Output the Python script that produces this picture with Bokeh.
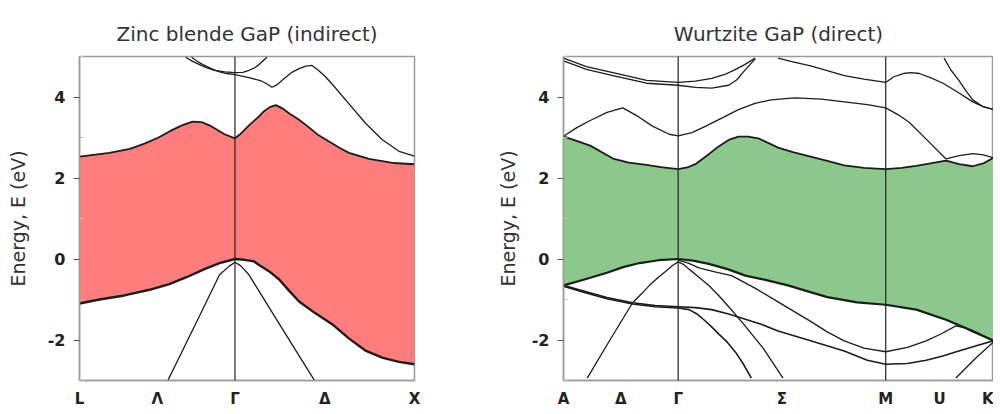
from bokeh.plotting import figure
from bokeh.layouts import row
from bokeh.models import FixedTicker, Range1d, Span
from bokeh.embed import file_html
from bokeh.resources import INLINE

# ---------------- Zinc blende GaP (indirect) ----------------
zb_title = "Zinc blende GaP (indirect)"
zb_labels = ["L", "Λ", "Γ", "Δ", "X"]
zb_kpts = [0.0, 0.433, 0.866, 1.366, 1.866]
zb_vlines = [0.866]

zb_vb1_k = [0.0, 0.111, 0.25, 0.39, 0.5, 0.596, 0.696, 0.78, 0.866, 0.92, 0.972, 1.0, 1.055, 1.111, 1.167, 1.223, 1.31, 1.407, 1.5, 1.596, 1.69, 1.78, 1.866]
zb_vb1_e = [-1.1, -1.0, -0.9, -0.76, -0.62, -0.45, -0.25, -0.1, 0.0, -0.02, -0.06, -0.15, -0.3, -0.5, -0.78, -1.05, -1.33, -1.61, -1.96, -2.27, -2.44, -2.54, -2.6]

zb_vb3l_k = [0.866, 0.836, 0.78, 0.669, 0.585, 0.49]
zb_vb3l_e = [-0.08, -0.17, -0.39, -1.4, -2.16, -3.02]
zb_vb3r_k = [0.866, 0.899, 0.944, 1.055, 1.195, 1.312]
zb_vb3r_e = [-0.08, -0.17, -0.39, -1.19, -2.19, -3.02]

zb_cb1_k = [0.0, 0.167, 0.28, 0.362, 0.44, 0.501, 0.57, 0.63, 0.68, 0.724, 0.808, 0.866, 0.9, 0.944, 1.0, 1.028, 1.06, 1.094, 1.13, 1.167, 1.223, 1.278, 1.33, 1.39, 1.45, 1.501, 1.613, 1.752, 1.866]
zb_cb1_e = [2.53, 2.62, 2.72, 2.85, 3.0, 3.15, 3.3, 3.39, 3.38, 3.3, 3.08, 2.98, 3.1, 3.3, 3.52, 3.65, 3.75, 3.8, 3.72, 3.6, 3.44, 3.25, 3.06, 2.9, 2.74, 2.62, 2.47, 2.37, 2.34]

zb_cb2_k = [0.866, 0.944, 1.011, 1.045, 1.072, 1.1, 1.139, 1.18, 1.223, 1.26, 1.295, 1.33, 1.37, 1.407, 1.501, 1.596, 1.685, 1.78, 1.866]
zb_cb2_e = [4.55, 4.48, 4.4, 4.32, 4.24, 4.3, 4.45, 4.6, 4.7, 4.76, 4.78, 4.66, 4.5, 4.32, 3.83, 3.34, 2.95, 2.66, 2.54]

zb_cb3_k = [0.591, 0.63, 0.669, 0.71, 0.752, 0.81, 0.866, 0.91, 0.944, 0.975, 1.0, 1.044]
zb_cb3_e = [4.98, 4.88, 4.8, 4.72, 4.66, 4.62, 4.6, 4.61, 4.66, 4.72, 4.8, 4.98]
zb_cb4_k = [0.624, 0.66, 0.696, 0.74, 0.78, 0.82, 0.866]
zb_cb4_e = [4.98, 4.87, 4.78, 4.69, 4.62, 4.58, 4.55]

# ---------------- Wurtzite GaP (direct) ----------------
wz_title = "Wurtzite GaP (direct)"
wz_labels = ["A", "Δ", "Γ", "Σ", "M", "U", "K"]
wz_kpts = [0.0, 0.5, 1.0, 1.905, 2.81, 3.28, 3.75]
wz_vlines = [1.0, 2.81]

wz_cb1_k = [0.0, 0.233, 0.431, 0.57, 0.707, 0.85, 1.0, 1.08, 1.155, 1.25, 1.353, 1.44, 1.526, 1.61, 1.698, 1.871, 2.0, 2.155, 2.3, 2.448, 2.62, 2.81, 2.95, 3.077, 3.2, 3.336, 3.45, 3.569, 3.66, 3.75]
wz_cb1_e = [3.03, 2.8, 2.48, 2.38, 2.33, 2.27, 2.22, 2.26, 2.35, 2.55, 2.78, 2.94, 3.02, 3.02, 2.98, 2.75, 2.64, 2.53, 2.42, 2.31, 2.25, 2.22, 2.25, 2.3, 2.36, 2.43, 2.34, 2.29, 2.36, 2.5]

wz_cb2_k = [0.0, 0.12, 0.233, 0.38, 0.517, 0.65, 0.776, 0.922, 1.0, 1.12, 1.241, 1.38, 1.526, 1.67, 1.81, 2.017, 2.25, 2.448, 2.65, 2.81, 2.92, 3.017, 3.163, 3.336, 3.45, 3.569, 3.66, 3.75]
wz_cb2_e = [3.03, 3.25, 3.42, 3.62, 3.73, 3.52, 3.28, 3.08, 3.04, 3.12, 3.28, 3.48, 3.69, 3.84, 3.93, 3.98, 3.95, 3.88, 3.81, 3.73, 3.56, 3.37, 2.96, 2.47, 2.55, 2.6, 2.57, 2.5]

wz_cb3_k = [0.0, 0.2, 0.431, 0.724, 1.0, 1.15, 1.293, 1.4, 1.48, 1.58, 1.672]
wz_cb3_e = [4.96, 4.75, 4.6, 4.41, 4.36, 4.39, 4.46, 4.55, 4.65, 4.8, 4.96]
wz_cb4_k = [0.0, 0.2, 0.431, 0.724, 1.0, 1.15, 1.293, 1.44, 1.51, 1.569, 1.672]
wz_cb4_e = [4.89, 4.68, 4.53, 4.34, 4.29, 4.24, 4.22, 4.29, 4.42, 4.62, 4.94]
wz_cb5_k = [1.871, 2.0, 2.155, 2.3, 2.448, 2.62, 2.81, 2.88, 2.965, 3.03, 3.103, 3.2, 3.31, 3.45, 3.569, 3.66, 3.75]
wz_cb5_e = [4.96, 4.87, 4.77, 4.65, 4.53, 4.44, 4.36, 4.5, 4.58, 4.6, 4.58, 4.48, 4.34, 4.1, 3.88, 3.76, 3.69]
wz_cb6_k = [3.319, 3.38, 3.448, 3.51, 3.569, 3.66, 3.75]
wz_cb6_e = [4.96, 4.66, 4.41, 4.15, 3.93, 3.76, 3.69]

wz_vb1_k = [0.0, 0.19, 0.379, 0.52, 0.664, 0.83, 1.0, 1.13, 1.267, 1.43, 1.586, 1.77, 1.957, 2.13, 2.302, 2.56, 2.81, 3.077, 3.336, 3.569, 3.75]
wz_vb1_e = [-0.65, -0.5, -0.34, -0.2, -0.1, -0.03, 0.0, -0.04, -0.12, -0.25, -0.41, -0.52, -0.65, -0.8, -0.94, -1.07, -1.13, -1.25, -1.5, -1.78, -2.02]

wz_vb2_k = [0.0, 0.19, 0.379, 0.603, 0.8, 1.0, 1.15, 1.293, 1.44, 1.586, 1.73, 1.871, 2.155, 2.448, 2.65, 2.81, 3.0, 3.163, 3.3, 3.448, 3.6, 3.75]
wz_vb2_e = [-0.65, -0.8, -0.95, -1.08, -1.15, -1.18, -1.2, -1.25, -1.36, -1.49, -1.62, -1.78, -2.02, -2.27, -2.5, -2.6, -2.58, -2.5, -2.4, -2.27, -2.14, -2.02]

wz_vb3_k = [0.0, 0.19, 0.379, 0.603, 0.8, 1.0, 1.095, 1.16, 1.224, 1.29, 1.353, 1.43, 1.5, 1.57, 1.638]
wz_vb3_e = [-0.67, -0.83, -0.98, -1.11, -1.18, -1.21, -1.25, -1.35, -1.5, -1.67, -1.85, -2.06, -2.3, -2.6, -2.94]

wz_vb4_k = [1.0, 1.09, 1.181, 1.32, 1.466, 1.67, 1.871, 2.155, 2.3, 2.448, 2.62, 2.81, 3.0, 3.163, 3.3, 3.422, 3.5, 3.569, 3.75]
wz_vb4_e = [-0.03, -0.1, -0.22, -0.32, -0.41, -0.72, -1.06, -1.54, -1.8, -2.02, -2.2, -2.29, -2.18, -2.02, -1.84, -1.65, -1.7, -1.8, -2.02]

wz_vb5_k = [1.0, 1.05, 1.095, 1.181, 1.27, 1.353, 1.46, 1.569, 1.741, 1.914]
wz_vb5_e = [-0.07, -0.14, -0.25, -0.45, -0.66, -0.9, -1.24, -1.6, -2.2, -2.94]
wz_vb6_k = [1.0, 0.95, 0.897, 0.82, 0.75, 0.68, 0.603, 0.405, 0.207]
wz_vb6_e = [-0.07, -0.16, -0.29, -0.47, -0.65, -0.86, -1.08, -2.0, -2.94]
wz_vb7_k = [3.422, 3.594, 3.75]
wz_vb7_e = [-2.94, -2.45, -2.05]

y_ticks = [-2, 0, 2, 4]
y_minor = [-3, -1, 1, 3, 5]
e_min, e_max = -3, 5

FONT = "DejaVu Sans"
LINE = "#1c1c1c"
FRAME = "#9a9a9a"


def make_fig(title, kpts, labels, kmax, frame_w, border_left, border_right,
             tick_standoff, label_standoff):
    p = figure(output_backend="svg", toolbar_location=None,
               frame_width=frame_w, frame_height=324,
               min_border_left=border_left, min_border_right=border_right,
               min_border_top=56, min_border_bottom=22,
               x_range=Range1d(0, kmax), y_range=Range1d(e_min, e_max),
               title=title)
    p.title.align = "center"
    p.title.text_font = FONT
    p.title.text_font_size = "20px"
    p.title.text_font_style = "normal"
    p.title.text_color = "#333333"
    p.title.standoff = 22
    p.grid.visible = False
    p.outline_line_color = FRAME
    p.outline_line_width = 1.5
    p.background_fill_color = "white"
    p.border_fill_color = "white"

    xa = p.xaxis[0]
    xa.ticker = FixedTicker(ticks=kpts)
    xa.major_label_overrides = {k: lab for k, lab in zip(kpts, labels)}
    xa.major_tick_line_color = None
    xa.minor_tick_line_color = None
    xa.axis_line_color = FRAME
    xa.axis_line_width = 1.5
    xa.major_label_text_font = FONT
    xa.major_label_text_font_size = "15px"
    xa.major_label_text_font_style = "bold"
    xa.major_label_text_color = "#222222"
    xa.major_label_standoff = 3

    ya = p.yaxis[0]
    ya.ticker = FixedTicker(ticks=y_ticks, minor_ticks=y_minor)
    ya.major_label_overrides = {t: str(t) for t in y_ticks}
    ya.axis_line_color = FRAME
    ya.axis_line_width = 1.5
    ya.major_tick_line_color = "#555555"
    ya.major_tick_out = 6
    ya.major_tick_in = 0
    ya.minor_tick_line_color = "#bbbbbb"
    ya.minor_tick_in = 4
    ya.minor_tick_out = 0
    ya.major_label_text_font = FONT
    ya.major_label_text_font_size = "16px"
    ya.major_label_text_font_style = "bold"
    ya.major_label_text_color = "#222222"
    ya.major_label_standoff = tick_standoff
    ya.axis_label = "Energy, E (eV)"
    ya.axis_label_text_font = FONT
    ya.axis_label_text_font_size = "19px"
    ya.axis_label_text_font_style = "normal"
    ya.axis_label_text_color = "#333333"
    ya.axis_label_standoff = label_standoff
    return p


def band(p, k, e, w=1.3):
    p.line(k, e, line_color=LINE, line_width=w, line_join="round")


# ---- left panel ----
p1 = make_fig(zb_title, zb_kpts, zb_labels, zb_kpts[-1], 335, 79, 20, 8, 16)
p1.patch(zb_cb1_k + zb_vb1_k[::-1], zb_cb1_e + zb_vb1_e[::-1],
         fill_color="#ff7d7d", line_color=None)
for xv in zb_vlines:
    p1.add_layout(Span(location=xv, dimension="height", line_color="#222222", line_width=1.2))
band(p1, zb_vb3l_k, zb_vb3l_e)
band(p1, zb_vb3r_k, zb_vb3r_e)
band(p1, zb_cb2_k, zb_cb2_e)
band(p1, zb_cb3_k, zb_cb3_e)
band(p1, zb_cb4_k, zb_cb4_e)
band(p1, zb_cb1_k, zb_cb1_e, 1.8)
band(p1, zb_vb1_k, zb_vb1_e, 2.4)

# ---- right panel ----
p2 = make_fig(wz_title, wz_kpts, wz_labels, wz_kpts[-1], 430, 129, 0, 8, 10)
p2.patch(wz_cb1_k + wz_vb1_k[::-1], wz_cb1_e + wz_vb1_e[::-1],
         fill_color="#8cc78c", line_color=None)
for xv in wz_vlines:
    p2.add_layout(Span(location=xv, dimension="height", line_color="#222222", line_width=1.2))
band(p2, wz_cb2_k, wz_cb2_e)
band(p2, wz_cb3_k, wz_cb3_e)
band(p2, wz_cb4_k, wz_cb4_e)
band(p2, wz_cb5_k, wz_cb5_e)
band(p2, wz_cb6_k, wz_cb6_e)
band(p2, wz_vb2_k, wz_vb2_e, 1.6)
band(p2, wz_vb3_k, wz_vb3_e, 1.6)
band(p2, wz_vb4_k, wz_vb4_e)
band(p2, wz_vb5_k, wz_vb5_e)
band(p2, wz_vb6_k, wz_vb6_e)
band(p2, wz_vb7_k, wz_vb7_e)
band(p2, wz_cb1_k, wz_cb1_e, 1.8)
band(p2, wz_vb1_k, wz_vb1_e, 2.2)

layout = row(p1, p2)
open("out.html", "w").write(file_html(layout, INLINE))
